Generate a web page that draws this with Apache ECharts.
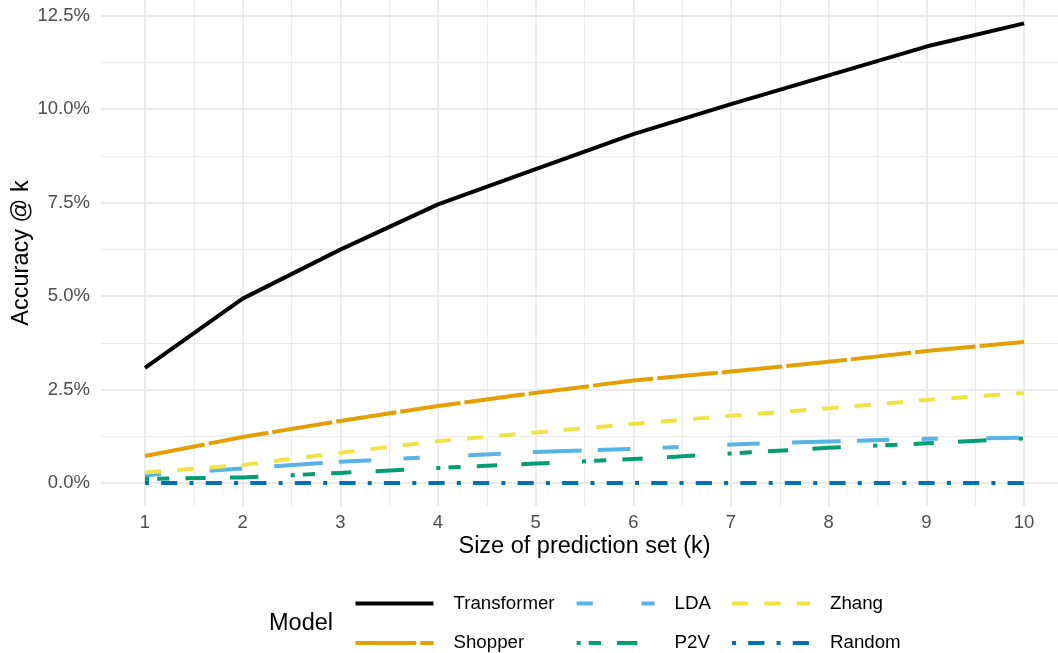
<!DOCTYPE html>
<html>
<head>
<meta charset="utf-8">
<script src="https://cdn.jsdelivr.net/npm/echarts@6/dist/echarts.min.js"></script>
<style>
  html, body { margin: 0; padding: 0; background: #ffffff; }
  #chart { width: 1058px; height: 653px; }
</style>
</head>
<body>
<div id="chart"></div>
<script>
// Prediction-set size k
const kValues = [1, 2, 3, 4, 5, 6, 7, 8, 9, 10];

// Accuracy @ k, in percent
const transformer = [3.08, 4.93, 6.24, 7.45, 8.39, 9.33, 10.13, 10.90, 11.67, 12.29];
const shopper     = [0.72, 1.23, 1.66, 2.06, 2.41, 2.74, 2.98, 3.24, 3.53, 3.77];
const lda         = [0.21, 0.39, 0.57, 0.70, 0.83, 0.91, 1.03, 1.11, 1.18, 1.21];
const p2v         = [0.11, 0.15, 0.27, 0.40, 0.52, 0.64, 0.79, 0.94, 1.06, 1.19];
const zhang       = [0.28, 0.48, 0.81, 1.12, 1.35, 1.58, 1.80, 2.00, 2.22, 2.41];
const randomModel = [0, 0, 0, 0, 0, 0, 0, 0, 0, 0];

// Axis breaks
const yMajorTicks = [0, 2.5, 5, 7.5, 10, 12.5];
const yMinorTicks = [1.25, 3.75, 6.25, 8.75, 11.25];
const xMajorTicks = [1, 2, 3, 4, 5, 6, 7, 8, 9, 10];
const xMinorTicks = [1.5, 2.5, 3.5, 4.5, 5.5, 6.5, 7.5, 8.5, 9.5];

const FONT = '"Liberation Sans", Arial, Helvetica, sans-serif';
const GRID_COLOR = '#EBEBEB';
const U = 4.05; // dash unit (px)

const models = [
  { name: 'Transformer', values: transformer, color: '#000000', dash: 'solid' },
  { name: 'Shopper',     values: shopper,     color: '#E69F00', dash: [15 * U, 1 * U] },
  { name: 'LDA',         values: lda,         color: '#56B4E9', dash: [4 * U, 12 * U, 8 * U, 8 * U, 12 * U, 4 * U, 8 * U, 8 * U] },
  { name: 'P2V',         values: p2v,         color: '#009E73', dash: [1 * U, 2 * U, 3 * U, 4 * U, 5 * U, 6 * U, 7 * U, 8 * U] },
  { name: 'Zhang',       values: zhang,       color: '#F0E442', dash: [4 * U, 4 * U] },
  { name: 'Random',      values: randomModel, color: '#0072B2', dash: [1 * U, 3 * U, 4 * U, 3 * U] }
];

const xMin = 0.55, xMax = 10.45;
const yMin = -0.615, yMax = 12.915;

const chart = echarts.init(document.getElementById('chart'), null, { renderer: 'canvas' });

// Legend keys show only the line, no marker
const legendBase = {
  orient: 'vertical',
  top: 593.5,
  padding: 0,
  itemWidth: 78,
  itemHeight: 20,
  itemGap: 19.5,
  selectedMode: false,
  itemStyle: { color: 'rgba(0,0,0,0)', borderColor: 'rgba(0,0,0,0)', borderWidth: 0 },
  lineStyle: { width: 4 },
  textStyle: {
    fontFamily: FONT, fontSize: 18.7, color: '#000000',
    lineHeight: 20, padding: [0, 0, 0, 15]
  }
};

const option = {
  backgroundColor: '#ffffff',
  animation: false,
  grid: {
    left: 101, top: 0, width: 967, height: 506,
    containLabel: false, outerBoundsMode: 'none'
  },
  xAxis: [
    {
      type: 'value', min: xMin, max: xMax,
      name: 'Size of prediction set (k)',
      nameLocation: 'middle', nameGap: 29, nameMoveOverlap: false,
      nameTextStyle: { fontFamily: FONT, fontSize: 23.5, color: '#000000' },
      axisLine: { show: false },
      axisTick: { show: false, customValues: xMajorTicks },
      axisLabel: {
        customValues: xMajorTicks, margin: 7,
        fontFamily: FONT, fontSize: 18.5, color: '#4D4D4D',
        formatter: v => String(v)
      },
      splitLine: { show: true, lineStyle: { color: GRID_COLOR, width: 2 } }
    },
    {
      type: 'value', min: xMin, max: xMax, position: 'bottom',
      axisLine: { show: false },
      axisTick: { show: false, customValues: xMinorTicks },
      axisLabel: { show: false, customValues: xMinorTicks },
      splitLine: { show: true, lineStyle: { color: GRID_COLOR, width: 1 } }
    }
  ],
  yAxis: [
    {
      type: 'value', min: yMin, max: yMax,
      name: 'Accuracy @ k',
      nameLocation: 'middle', nameGap: 67, nameMoveOverlap: false,
      nameTextStyle: { fontFamily: FONT, fontSize: 23.5, color: '#000000' },
      axisLine: { show: false },
      axisTick: { show: false, customValues: yMajorTicks },
      axisLabel: {
        customValues: yMajorTicks, margin: 11,
        fontFamily: FONT, fontSize: 18.5, color: '#4D4D4D',
        formatter: v => v.toFixed(1) + '%'
      },
      splitLine: { show: true, lineStyle: { color: GRID_COLOR, width: 2 } }
    },
    {
      type: 'value', min: yMin, max: yMax, position: 'left',
      axisLine: { show: false },
      axisTick: { show: false, customValues: yMinorTicks },
      axisLabel: { show: false, customValues: yMinorTicks },
      splitLine: { show: true, lineStyle: { color: GRID_COLOR, width: 1 } }
    }
  ],
  legend: [
    Object.assign({}, legendBase, { left: 353.5, data: ['Transformer', 'Shopper'] }),
    Object.assign({}, legendBase, { left: 574.6, data: ['LDA', 'P2V'] }),
    Object.assign({}, legendBase, { left: 730, data: ['Zhang', 'Random'] })
  ],
  graphic: [
    {
      type: 'text', left: 269, top: 612,
      style: { text: 'Model', font: '23.5px ' + FONT, fill: '#000000' }
    }
  ],
  series: models.map(m => ({
    name: m.name,
    type: 'line',
    xAxisIndex: 0,
    yAxisIndex: 0,
    data: kValues.map((k, i) => [k, m.values[i]]),
    symbol: 'none',
    showSymbol: false,
    color: m.color,
    lineStyle: { color: m.color, width: 4, type: m.dash, cap: 'butt', join: 'round' },
    emphasis: { disabled: true },
    silent: true
  }))
};

chart.setOption(option);
</script>
</body>
</html>
